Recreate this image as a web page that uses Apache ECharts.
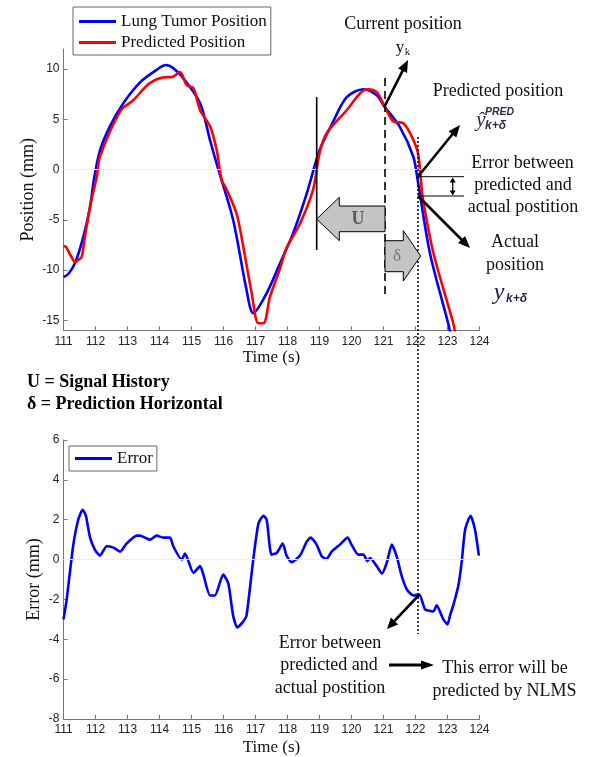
<!DOCTYPE html>
<html><head><meta charset="utf-8">
<script src="https://cdn.jsdelivr.net/npm/echarts@6/dist/echarts.min.js"></script>
<style>html,body{margin:0;padding:0;background:#fff}#c{width:592px;height:757px}</style>
</head><body><div id="c"></div>
<script>
// ---- data (time in s, value in mm) ----
const tumorPosition = [[111.0,-10.7],[111.15,-10.4],[111.36,-9.3],[111.62,-6.7],[111.83,-3.7],[111.95,-1.0],[112.14,1.9],[112.45,4.3],[112.87,6.6],[113.4,8.7],[113.9,9.9],[114.2,10.4],[114.43,10.1],[114.74,9.1],[115.27,6.6],[115.58,2.9],[115.84,0.0],[116.3,-5.0],[116.72,-12.0],[116.93,-14.3],[117.35,-12.3],[117.77,-9.3],[118.18,-6.3],[118.6,-2.4],[119.0,1.9],[119.4,4.6],[119.85,7.2],[120.37,8.0],[120.79,7.4],[121.0,6.4],[121.5,4.3],[121.93,1.3],[122.06,-0.9],[122.45,-8.3],[123.02,-15.3],[123.1,-16.5]];
const predictedPosition = [[111.0,-7.6],[111.08,-7.7],[111.25,-8.7],[111.36,-9.2],[111.5,-8.9],[111.57,-8.7],[111.67,-6.7],[111.83,-3.7],[112.04,-0.7],[112.14,1.3],[112.77,5.8],[113.18,6.9],[113.7,8.6],[114.23,9.2],[114.38,9.2],[114.64,9.7],[114.85,8.4],[115.06,8.1],[115.27,5.9],[115.58,4.3],[115.79,1.9],[115.94,-1.0],[116.1,-2.0],[116.41,-4.4],[116.62,-7.7],[116.88,-12.3],[117.09,-15.3],[117.25,-15.3],[117.45,-12.7],[117.77,-9.8],[117.97,-7.8],[118.39,-5.4],[118.8,-2.0],[119.0,1.6],[119.22,3.6],[119.85,5.9],[120.27,7.6],[120.52,8.0],[120.79,7.7],[121.03,6.3],[121.3,4.8],[121.62,4.6],[121.88,3.3],[122.08,1.6],[122.16,-0.7],[122.22,-2.7],[122.56,-8.3],[123.18,-15.3],[123.25,-16.5]];
const errorValues = [[111.0,-3.0],[111.1,-2.0],[111.3,0.67],[111.46,2.0],[111.6,2.5],[111.7,2.2],[111.83,1.1],[111.98,0.5],[112.14,0.2],[112.35,0.67],[112.56,0.6],[112.77,0.4],[112.97,0.8],[113.29,1.2],[113.39,1.2],[113.55,1.1],[113.7,1.0],[113.91,1.2],[114.12,1.1],[114.33,1.1],[114.43,0.67],[114.69,0.0],[114.8,0.3],[115.06,-0.67],[115.27,-0.33],[115.37,-0.75],[115.58,-1.8],[115.73,-1.8],[115.99,-0.75],[116.15,-1.2],[116.3,-2.8],[116.43,-3.4],[116.62,-3.1],[116.72,-2.8],[116.93,0.0],[117.09,1.8],[117.25,2.2],[117.35,2.0],[117.5,0.25],[117.66,0.33],[117.85,0.8],[117.97,0.2],[118.13,-0.13],[118.39,0.2],[118.6,0.9],[118.72,1.1],[118.91,0.75],[119.07,0.17],[119.22,0.03],[119.38,0.4],[119.64,0.75],[119.88,1.1],[120.0,0.75],[120.21,0.25],[120.37,0.25],[120.5,-0.08],[120.58,0.08],[120.79,-0.33],[120.95,-0.7],[121.1,-0.17],[121.26,0.75],[121.41,0.17],[121.57,-0.83],[121.73,-1.5],[121.93,-1.8],[122.12,-1.75],[122.3,-2.5],[122.56,-2.6],[122.66,-2.3],[122.87,-3.0],[123.0,-3.25],[123.08,-2.8],[123.18,-2.3],[123.34,-1.3],[123.44,-0.17],[123.55,1.5],[123.72,2.2],[123.86,1.5],[123.98,0.2]];
const timeRange = [111, 124];
const positionTicks = [-15, -10, -5, 0, 5, 10];
const positionRange = [-16, 12];
const errorRange = [-8, 6];
const seriesNames = ['Lung Tumor Position', 'Predicted Position', 'Error'];

// ---- helpers ----
const SERIF = '"Liberation Serif", "Times New Roman", serif';
const SANS = '"Liberation Sans", Arial, sans-serif';
function txt(text, x, y, font, fill, align) {
  return {type:'text', z:20, style:{text, x, y, font, fill: fill || '#111',
    align: align || 'center', verticalAlign:'middle', textAlign: align || 'center', textVerticalAlign:'middle'}};
}
function arrow(x1, y1, x2, y2, lw, hl, hw) {
  const dx = x2-x1, dy = y2-y1, L = Math.hypot(dx, dy), ux = dx/L, uy = dy/L;
  const bx = x2-ux*hl, by = y2-uy*hl, px = -uy, py = ux;
  return [
    {type:'line', z:20, shape:{x1, y1, x2:bx+ux, y2:by+uy}, style:{stroke:'#000', lineWidth:lw}},
    {type:'polygon', z:20, shape:{points:[[x2,y2],[bx+px*hw/2,by+py*hw/2],[bx-px*hw/2,by-py*hw/2]]}, style:{fill:'#000'}}
  ];
}
function vline(x, y1, y2, lw, dash) {
  return {type:'line', z:15, shape:{x1:x, y1, x2:x, y2}, style:{stroke:'#000', lineWidth:lw, lineDash: dash || null}};
}
function hline(x1, x2, y, lw) {
  return {type:'line', z:15, shape:{x1, y1:y, x2, y2:y}, style:{stroke:'#000', lineWidth:lw}};
}

const axisCommon = {
  axisLine:{show:true, onZero:false, lineStyle:{color:'#777', width:1}},
  axisTick:{show:true, inside:true, length:4, lineStyle:{color:'#777'}},
  splitLine:{show:false},
  nameMoveOverlap:false,
};
const chart = echarts.init(document.getElementById('c'), null, {renderer:'canvas'});

const graphics = [
  // vertical markers
  vline(316.7, 97, 250, 1.6),
  vline(385, 78, 298, 1.6, [8, 5]),
  vline(418, 137, 634, 1.5, [2, 2]),
  // U arrow (signal history)
  {type:'polygon', z:16, shape:{points:[[316.7,219],[339.3,197.3],[339.3,206],[385,206],[385,231.7],[339.3,231.7],[339.3,240.7]]},
    style:{fill:'#c4c4c4', stroke:'#000', lineWidth:1}},
  // delta arrow (prediction horizon)
  {type:'polygon', z:16, shape:{points:[[385,240.7],[403.3,240.7],[403.3,230.7],[420.7,256],[403.3,281],[403.3,271.7],[385,271.7]]},
    style:{fill:'#c4c4c4', stroke:'#000', lineWidth:1}},
  txt('U', 358, 219, 'bold 18px ' + SERIF, '#5c5c5c'),
  txt('δ', 397, 257, '17px ' + SERIF, '#777'),
  // top annotations
  txt('Current position', 403, 24, '18px ' + SERIF),
  txt('y', 400, 48, '17px ' + SERIF, '#111'),
  txt('k', 407.5, 52, '11px ' + SERIF, '#111'),
  ...arrow(384.3, 107, 408, 60, 2.6, 12, 10),
  txt('Predicted position', 498, 91, '18px ' + SERIF),
  txt('ŷ', 481, 120, 'italic 21px ' + SERIF, '#2c2c48'),
  txt('PRED', 485, 112, 'italic bold 10.5px ' + SANS, '#2c2c48', 'left'),
  txt('k+δ', 485, 126, 'italic bold 12px ' + SANS, '#2c2c48', 'left'),
  ...arrow(417.7, 177, 460, 125, 2.6, 12, 10),
  txt('Error between', 522.5, 163, '18px ' + SERIF),
  txt('predicted and', 523, 185, '18px ' + SERIF),
  txt('actual postition', 523, 207, '18px ' + SERIF),
  hline(418, 464, 176.7, 1),
  hline(418, 464, 196, 1),
  ...arrow(452.7, 186.5, 452.7, 177.5, 1.3, 5, 6),
  ...arrow(452.7, 186.5, 452.7, 195.5, 1.3, 5, 6),
  ...arrow(418, 196, 470, 248, 2.6, 12, 10),
  txt('Actual', 515, 242, '18px ' + SERIF),
  txt('position', 515, 265, '18px ' + SERIF),
  txt('y', 499, 293, 'italic 24px ' + SERIF, '#1d1d4d'),
  txt('k+δ', 506, 299, 'italic bold 12px ' + SANS, '#1d1d4d', 'left'),
  // legend of symbols
  txt('U = Signal History', 27, 382, 'bold 18px ' + SERIF, '#000', 'left'),
  txt('δ = Prediction Horizontal', 27, 404, 'bold 18px ' + SERIF, '#000', 'left'),
  // bottom annotations
  ...arrow(419, 595, 387, 629, 2.6, 11, 10),
  txt('Error between', 330, 643, '18px ' + SERIF),
  txt('predicted and', 329, 665.5, '18px ' + SERIF),
  txt('actual postition', 330, 688, '18px ' + SERIF),
  ...arrow(389, 665, 434, 665, 3, 13, 9),
  txt('This error will be', 505, 668.5, '18px ' + SERIF),
  txt('predicted by NLMS', 504.5, 691, '18px ' + SERIF),
];

chart.setOption({
  animation:false,
  backgroundColor:'#fff',
  grid:[
    {left:63.5, right:112.5, top:49, bottom:426.7, containLabel:false},
    {left:63.5, right:112.5, top:440, bottom:36.7, containLabel:false}
  ],
  legend:[
    {data:[seriesNames[0], seriesNames[1]], orient:'vertical', left:73, top:7, icon:'rect', itemWidth:37, itemHeight:3,
      itemGap:4, padding:[6,4,4,6], borderColor:'#666', borderWidth:1, backgroundColor:'#fff', z:10,
      textStyle:{fontFamily:SERIF, fontSize:17, lineHeight:17, color:'#111'}},
    {data:[seriesNames[2]], orient:'vertical', left:69, top:446, icon:'rect', itemWidth:37, itemHeight:3,
      padding:[4,4,4,6], borderColor:'#666', borderWidth:1, backgroundColor:'#fff', z:10,
      textStyle:{fontFamily:SERIF, fontSize:17, lineHeight:17, color:'#111'}}
  ],
  xAxis:[
    Object.assign({}, axisCommon, {type:'value', gridIndex:0, min:timeRange[0], max:timeRange[1], interval:1,
      name:'Time (s)', nameLocation:'middle', nameGap:19,
      nameTextStyle:{fontFamily:SERIF, fontSize:17, color:'#111'},
      axisLabel:{fontFamily:SANS, fontSize:12, color:'#222', margin:5}}),
    Object.assign({}, axisCommon, {type:'value', gridIndex:1, min:timeRange[0], max:timeRange[1], interval:1,
      name:'Time (s)', nameLocation:'middle', nameGap:20,
      nameTextStyle:{fontFamily:SERIF, fontSize:17, color:'#111'},
      axisLabel:{fontFamily:SANS, fontSize:12, color:'#222', margin:5}})
  ],
  yAxis:[
    Object.assign({}, axisCommon, {type:'value', gridIndex:0, min:positionRange[0], max:positionRange[1], interval:4,
      name:'Position (mm)', nameLocation:'middle', nameGap:26,
      nameTextStyle:{fontFamily:SERIF, fontSize:18, color:'#111'},
      axisTick:{show:true, inside:true, length:4, lineStyle:{color:'#777'}, customValues:positionTicks},
      axisLabel:{fontFamily:SANS, fontSize:12, color:'#222', margin:4, customValues:positionTicks}}),
    Object.assign({}, axisCommon, {type:'value', gridIndex:1, min:errorRange[0], max:errorRange[1], interval:2,
      name:'Error (mm)', nameLocation:'middle', nameGap:20,
      nameTextStyle:{fontFamily:SERIF, fontSize:18, color:'#111'},
      axisLabel:{fontFamily:SANS, fontSize:12, color:'#222', margin:4}})
  ],
  series:[
    {name:seriesNames[0], type:'line', xAxisIndex:0, yAxisIndex:0, data:tumorPosition, symbol:'none', smooth:0.3,
      color:'#0000ff', lineStyle:{color:'#0000ff', width:2.6}, z:3,
      markLine:{silent:true, symbol:'none', label:{show:false}, lineStyle:{color:'#ececec', width:1, type:'solid'}, data:[{yAxis:0}]}},
    {name:seriesNames[1], type:'line', xAxisIndex:0, yAxisIndex:0, data:predictedPosition, symbol:'none', smooth:0.3,
      color:'#ff0000', lineStyle:{color:'#ff0000', width:2.6}, z:4},
    {name:seriesNames[2], type:'line', xAxisIndex:1, yAxisIndex:1, data:errorValues, symbol:'none', smooth:0.2,
      color:'#0000ff', lineStyle:{color:'#0000ff', width:2.6}, z:3,
      markLine:{silent:true, symbol:'none', label:{show:false}, lineStyle:{color:'#ececec', width:1, type:'solid'}, data:[{yAxis:0}]}}
  ],
  graphic:{elements:graphics}
});
</script></body></html>
